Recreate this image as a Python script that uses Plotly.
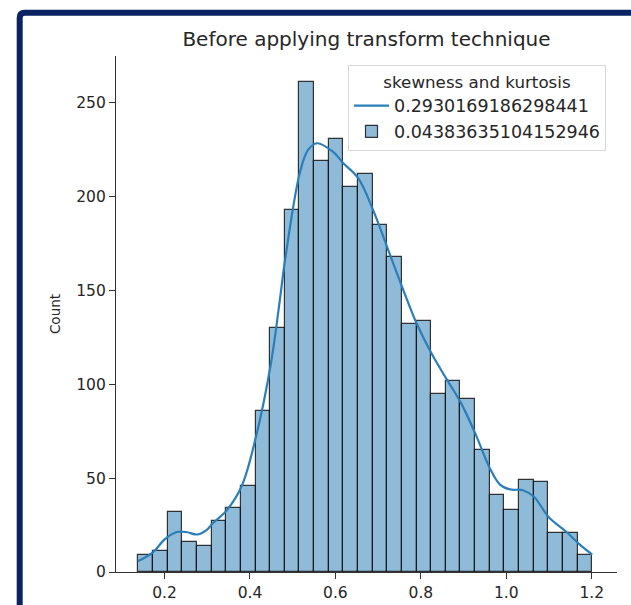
import numpy as np
import plotly.graph_objects as go

# ---- data ----
bin_low = 0.139
bin_high = 1.201
counts = [9, 11, 32, 16, 14, 27, 34, 46, 86, 130, 193, 261, 219, 231, 205,
          212, 185, 168, 132, 134, 95, 102, 92, 65, 41, 33, 49, 48, 21, 21, 9]

kde_x = [0.138, 0.173, 0.201, 0.229, 0.253, 0.276, 0.299, 0.311, 0.346, 0.381,
         0.414, 0.449, 0.470, 0.482, 0.517, 0.536, 0.557, 0.594, 0.618, 0.653,
         0.688, 0.723, 0.756, 0.791, 0.826, 0.861, 0.894, 0.927, 0.962, 0.985,
         1.009, 1.039, 1.065, 1.100, 1.139, 1.172, 1.201]
kde_y = [5.8, 10.5, 17.5, 21.3, 21.2, 20.0, 22.5, 25.5, 33.0, 46.0,
         72.0, 111.0, 145.0, 166.0, 213.0, 225.0, 228.5, 224.0, 218.0, 210.0,
         193.0, 172.0, 152.0, 132.0, 116.0, 102.5, 90.0, 74.0, 55.0, 46.6,
         44.0, 43.6, 40.0, 29.0, 21.7, 14.6, 9.3]

line_label = "0.2930169186298441"
bar_label = "0.04383635104152946"
legend_title = "skewness and kurtosis"
title_text = "Before applying transform technique"
y_label = "Count"
x_ticks = [0.2, 0.4, 0.6, 0.8, 1.0, 1.2]
y_ticks = [0, 50, 100, 150, 200, 250]

# ---- geometry ----
W, H = 631, 605
ML, MR, MT, MB = 116, 14, 56, 32.5
PW, PH = W - ML - MR, H - MT - MB

edges = np.linspace(bin_low, bin_high, len(counts) + 1)
centers = (edges[:-1] + edges[1:]) / 2
bw = edges[1] - edges[0]

FONT = "DejaVu Sans"
TXT = "#262626"

fig = go.Figure()
fig.add_trace(go.Bar(
    x=centers, y=counts, width=bw, name=bar_label,
    marker=dict(color="rgba(31,119,180,0.5)",
                line=dict(color="rgba(20,20,20,0.85)", width=1.2)),
    legendrank=2,
))
fig.add_trace(go.Scatter(
    x=kde_x, y=kde_y, mode="lines", name=line_label,
    line=dict(color="#2a7fba", width=2.2, shape="spline", smoothing=1.0),
    legendrank=1,
))


def px_x(p):
    return (p - ML) / PW


def px_y(p):
    return (H - MB - p) / PH


# dark frame around the screenshot (top and left edges)
fx, fy, r = 19.7, 12.8, 5
frame_path = (f"M {px_x(fx)},{px_y(700)} L {px_x(fx)},{px_y(fy + r)} "
              f"Q {px_x(fx)},{px_y(fy)} {px_x(fx + r)},{px_y(fy)} "
              f"L {px_x(700)},{px_y(fy)}")

fig.update_layout(
    width=W, height=H,
    margin=dict(l=ML, r=MR, t=MT, b=MB, autoexpand=False),
    paper_bgcolor="white", plot_bgcolor="white",
    font=dict(family=FONT, color=TXT, size=15),
    bargap=0,
    showlegend=True,
    title=dict(text=title_text, x=(ML + PW / 2) / W, xanchor="center",
               y=1 - 39 / H, yanchor="middle", yref="container",
               font=dict(size=20, family=FONT, color=TXT)),
    legend=dict(
        title=dict(text=legend_title, side="top center",
                   font=dict(size=16.7, family=FONT, color=TXT)),
        x=px_x(606), xanchor="right", y=px_y(65), yanchor="top",
        bgcolor="rgba(255,255,255,0.85)", bordercolor="#d9d9d9", borderwidth=1,
        font=dict(size=17.5, family=FONT, color=TXT),
        itemwidth=35, tracegroupgap=0,
    ),
    xaxis=dict(
        range=[0.0865, 1.259], tickvals=x_ticks, tickformat=".1f",
        automargin=False,
        showgrid=False, zeroline=False, showline=True, linecolor="#333333",
        linewidth=1.2, ticks="outside", ticklen=6, tickwidth=1.2,
        tickcolor="#333333", tickfont=dict(size=15.5, color=TXT),
    ),
    yaxis=dict(
        range=[0, 275], tickvals=y_ticks, automargin=False,
        showgrid=False, zeroline=False, showline=True, linecolor="#333333",
        linewidth=1.2, ticks="outside", ticklen=6, tickwidth=1.2,
        tickcolor="#333333", tickfont=dict(size=15.5, color=TXT),
        title=dict(text=y_label, standoff=12, font=dict(size=13.5, color=TXT)),
    ),
    shapes=[dict(type="path", xref="paper", yref="paper", path=frame_path,
                 line=dict(color="#0b2362", width=6), layer="above")],
)

fig.write_html("out.html")
